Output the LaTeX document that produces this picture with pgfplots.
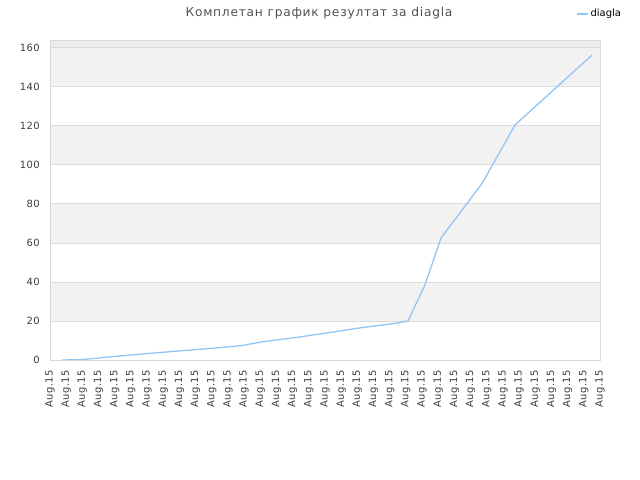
\documentclass[border=0pt]{standalone}
\usepackage{fontspec}
\setmainfont{DejaVu Sans}
\newfontfamily\tickfont[LetterSpace=4]{DejaVu Sans}
\newfontfamily\titlefont[LetterSpace=6]{DejaVu Sans}
\usepackage{pgfplots}
\pgfplotsset{compat=1.18}

\definecolor{band}{RGB}{242,242,242}
\definecolor{topband}{RGB}{236,236,236}
\definecolor{gridc}{RGB}{221,221,221}
\definecolor{frame}{RGB}{216,216,216}
\definecolor{linec}{RGB}{146,196,245}
\definecolor{txt}{RGB}{60,60,60}

\begin{document}
\begin{tikzpicture}
\path (0,0) rectangle (640bp,480bp);
\node[font=\titlefont\fontsize{12.3}{14}\selectfont, text=txt!90, inner sep=0pt] at (319bp,467bp) {Комплетан график резултат за diagla};
\begin{axis}[
  set layers=standard,
  at={(50bp,120bp)}, anchor=south west,
  scale only axis,
  width=550bp, height=320bp,
  xmin=0, xmax=34,
  ymin=0, ymax=164,
  xtick={0,...,34},
  xticklabel={Aug.15},
  ytick={0,20,...,160},
  ymajorgrids,
  grid style={gridc, line width=0.8bp},
  axis line style={frame, line width=0.8bp},
  major tick length=0pt,
  tick label style={font=\tickfont\fontsize{10}{12}\selectfont, text=txt,
    /pgf/number format/assume math mode=true},
  x tick label style={rotate=90, anchor=east, inner sep=0pt, xshift=-10bp},
  y tick label style={inner sep=0pt, xshift=-10bp},
  legend style={at={(1.0422,1.082)}, anchor=east,
    draw=none, fill=none, font=\fontsize{10}{12}\selectfont,
    inner sep=0pt, legend cell align=left,
    /tikz/every even column/.append style={column sep=6bp}},
  legend image code/.code={\draw[#1, line width=2bp] (0bp,0bp) -- (11bp,0bp);},
]
% alternating background bands
\addplot[on layer=axis background, fill=band, draw=none, forget plot]
  coordinates {(0,20) (34,20) (34,40) (0,40)} -- cycle;
\addplot[on layer=axis background, fill=band, draw=none, forget plot]
  coordinates {(0,60) (34,60) (34,80) (0,80)} -- cycle;
\addplot[on layer=axis background, fill=band, draw=none, forget plot]
  coordinates {(0,100) (34,100) (34,120) (0,120)} -- cycle;
\addplot[on layer=axis background, fill=band, draw=none, forget plot]
  coordinates {(0,140) (34,140) (34,160) (0,160)} -- cycle;
\addplot[on layer=axis background, fill=topband, draw=none, forget plot]
  coordinates {(0,160) (34,160) (34,164) (0,164)} -- cycle;

\addplot[color=linec, line width=1.3bp] coordinates {
  (0.74,0) (1.98,0.2) (3.83,1.7) (5.87,3.2) (7.91,4.6) (10.01,6.0)
  (11.87,7.4) (13.17,9.4) (15.27,11.6) (17.31,14.1) (19.35,16.7)
  (21.45,18.9) (22.13,20) (23.18,38.5) (24.17,62.5) (26.71,90.5)
  (28.75,120.5) (33.51,156.3)
};
\addlegendentry{diagla}
\end{axis}
\end{tikzpicture}
\end{document}
